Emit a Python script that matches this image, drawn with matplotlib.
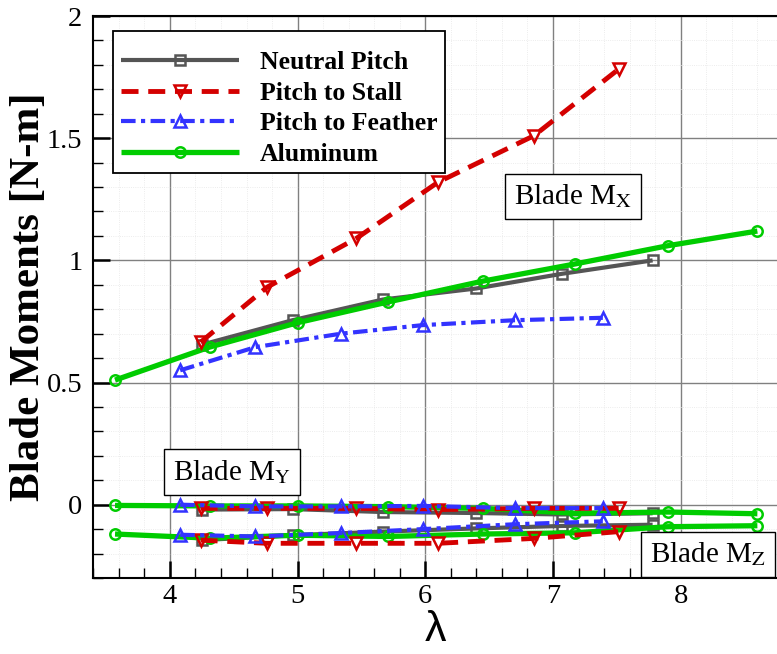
import numpy as np
import matplotlib.pyplot as plt
from matplotlib.ticker import MultipleLocator

# tip speed ratio and blade moments
lam_neutral = [4.25, 4.96, 5.67, 6.40, 7.07, 7.78]
mx_neutral = [0.655, 0.755, 0.84, 0.885, 0.945, 1.0]
my_neutral = [-0.02, -0.018, -0.03, -0.034, -0.04, -0.035]
mz_neutral = [-0.145, -0.125, -0.11, -0.097, -0.087, -0.082]

lam_stall = [4.24, 4.76, 5.46, 6.10, 6.85, 7.52]
mx_stall = [0.665, 0.89, 1.09, 1.32, 1.51, 1.785]
my_stall = [-0.015, -0.015, -0.015, -0.02, -0.015, -0.015]
mz_stall = [-0.145, -0.158, -0.158, -0.158, -0.138, -0.11]

lam_feather = [4.08, 4.67, 5.34, 5.98, 6.70, 7.39]
mx_feather = [0.55, 0.645, 0.70, 0.735, 0.755, 0.765]
my_feather = [0.0, -0.007, -0.007, -0.005, -0.014, -0.014]
mz_feather = [-0.123, -0.13, -0.116, -0.1, -0.08, -0.068]

lam_alum = [3.57, 4.31, 5.0, 5.71, 6.45, 7.17, 7.90, 8.60]
mx_alum = [0.51, 0.645, 0.745, 0.83, 0.915, 0.985, 1.06, 1.12]
my_alum = [-0.003, -0.005, -0.005, -0.008, -0.015, -0.035, -0.03, -0.037]
mz_alum = [-0.12, -0.137, -0.125, -0.13, -0.12, -0.115, -0.09, -0.086]

x_ticks = [4, 5, 6, 7, 8]
y_ticks = [0, 0.5, 1, 1.5, 2]
y_tick_labels = ['0', '0.5', '1', '1.5', '2']

plt.rcParams['mathtext.fontset'] = 'stix'
serif = 'Liberation Serif'

fig = plt.figure(figsize=(7.77, 6.54), dpi=100)
ax = fig.add_axes([0.1201, 0.1162, 0.8799, 0.8593])

series = [
    ('Neutral Pitch', lam_neutral, [mx_neutral, my_neutral, mz_neutral],
     dict(color='#555555', lw=3.0, ls='-', marker='s', ms=6.5)),
    ('Aluminum', lam_alum, [mx_alum, my_alum, mz_alum],
     dict(color='#00cc00', lw=3.8, ls='-', marker='o', ms=7.5)),
    ('Pitch to Stall', lam_stall, [mx_stall, my_stall, mz_stall],
     dict(color='#d40000', lw=3.5, ls=(0, (3.5, 2.0)), marker='v', ms=8.5)),
    ('Pitch to Feather', lam_feather, [mx_feather, my_feather, mz_feather],
     dict(color='#3333ff', lw=3.0, ls=(0, (3.5, 1.3, 1.0, 1.3)), marker='^', ms=8.5)),
]

handles = {}
for name, lam, moments, st in series:
    for i, m in enumerate(moments):
        ln, = ax.plot(lam, m, color=st['color'], lw=st['lw'], ls=st['ls'],
                      marker=st['marker'], ms=st['ms'], mfc='none',
                      mec=st['color'], mew=1.8, solid_capstyle='butt',
                      label=name if i == 0 else None)
        if i == 0:
            handles[name] = ln

order = ['Neutral Pitch', 'Pitch to Stall', 'Pitch to Feather', 'Aluminum']
leg = ax.legend([handles[k] for k in order], order, loc='upper left',
                bbox_to_anchor=(0.0288, 0.973), borderaxespad=0, numpoints=1,
                handlelength=4.6, handletextpad=0.82, labelspacing=0.29,
                borderpad=0.3, fancybox=False, framealpha=1,
                title=' ', title_fontproperties={'size': 4},
                prop={'family': serif, 'weight': 'bold', 'size': 18.5})
leg.get_frame().set_edgecolor('black')
leg.get_frame().set_linewidth(1.3)

box = dict(boxstyle='square,pad=0.3', fc='white', ec='black', lw=1.0)
ax.text(7.156, 1.262, r'Blade M$_{\rm X}$', family=serif, fontsize=21,
        ha='center', va='center', bbox=box)
ax.text(4.486, 0.134, r'Blade M$_{\rm Y}$', family=serif, fontsize=21,
        ha='center', va='center', bbox=box)
ax.text(8.213, -0.203, r'Blade M$_{\rm Z}$', family=serif, fontsize=21,
        ha='center', va='center', bbox=box, zorder=5)

ax.set_xlim(3.4, 8.754)
ax.set_ylim(-0.3, 2.0)
ax.set_xticks(x_ticks)
ax.set_yticks(y_ticks)
ax.set_yticklabels(y_tick_labels)
ax.xaxis.set_minor_locator(MultipleLocator(0.2))
ax.yaxis.set_minor_locator(MultipleLocator(0.1))
ax.tick_params(which='major', direction='in', length=12, width=1.8,
               labelsize=20.5, top=False, right=False)
ax.tick_params(axis='x', which='major', pad=4)
ax.tick_params(axis='y', which='major', pad=8)
ax.tick_params(which='minor', direction='in', length=7, width=1.0,
               top=False, right=False)
for lab in ax.get_xticklabels() + ax.get_yticklabels():
    lab.set_family(serif)

ax.grid(True, which='major', color='#808080', lw=1.0)
ax.grid(True, which='minor', color='#e6e6e6', lw=0.6, ls=':')
ax.set_axisbelow(True)

for side in ['left', 'bottom', 'top']:
    ax.spines[side].set_linewidth(1.5)
ax.spines['right'].set_visible(False)

ax.set_xlabel('λ', family='Liberation Sans', fontsize=31)
ax.xaxis.label.set_va('center')
ax.xaxis.set_label_coords(0.5, -0.092)
ax.set_ylabel('Blade Moments [N-m]', family=serif, fontweight='bold',
              fontsize=31)
ax.yaxis.set_label_coords(-0.066, 0.5)

fig.savefig('out.png', dpi=100)
